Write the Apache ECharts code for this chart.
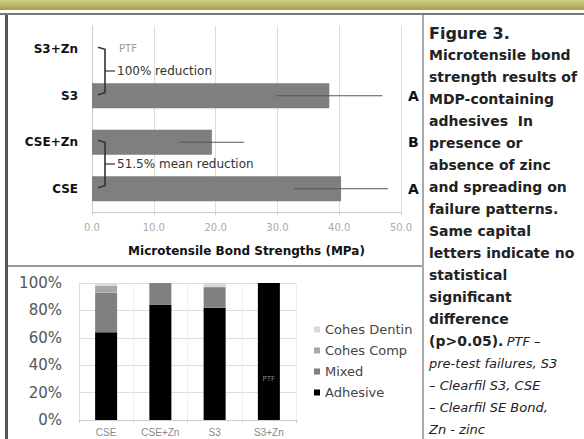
<!DOCTYPE html>
<html>
<head>
<meta charset="utf-8">
<script src="https://cdn.jsdelivr.net/npm/echarts@6/dist/echarts.min.js"></script>
<style>
  html, body { margin: 0; padding: 0; background: #fff; }
  #chart { width: 584px; height: 439px; }
</style>
</head>
<body>
<div id="chart"></div>
<script>
// top panel: microtensile bond strength (MPa), bottom to top
const bondGroups = ['CSE', 'CSE+Zn', 'S3', 'S3+Zn'];
const bondMeans = [40.3, 19.4, 38.4, 0];
const bondSD = [7.6, 5.2, 8.6, 0];
const bondLetters = ['A', 'B', 'A', ''];

// bottom panel: failure patterns (%)
const failGroups = ['CSE', 'CSE+Zn', 'S3', 'S3+Zn'];
const adhesive = [64, 84, 82, 100];
const mixed = [29, 16, 15, 0];
const cohesComp = [5, 0, 0, 0];
const cohesDentin = [2, 0, 3, 0];

const captionLines = [
  'Microtensile bond',
  'strength results of',
  'MDP-containing',
  'adhesives  In',
  'presence or',
  'absence of zinc',
  'and spreading on',
  'failure patterns.',
  'Same capital',
  'letters indicate no',
  'statistical',
  'significant',
  'difference'
];
const captionItalic = [
  'pre-test failures, S3',
  '– Clearfil S3, CSE',
  '– Clearfil SE Bond,',
  'Zn - zinc'
];

const chart = echarts.init(document.getElementById('chart'), null, {renderer: 'svg'});

const font = 'DejaVu Sans';

chart.setOption({
  animation: false,
  backgroundColor: '#fff',
  textStyle: {fontFamily: font},
  grid: [
    {left: 92, right: 183, top: 26, bottom: 227},
    {left: 79, right: 288, top: 283, bottom: 19}
  ],
  legend: {
    orient: 'vertical',
    left: 309,
    top: 318,
    itemWidth: 6,
    itemHeight: 6,
    itemGap: 8,
    icon: 'rect',
    data: ['Cohes Dentin', 'Cohes Comp', 'Mixed', 'Adhesive'],
    textStyle: {fontSize: 13, color: '#444', fontFamily: font}
  },
  xAxis: [
    {
      gridIndex: 0,
      type: 'value',
      min: 0,
      max: 50,
      interval: 10,
      name: 'Microtensile Bond Strengths (MPa)',
      nameLocation: 'middle',
      nameGap: 33,
      nameTextStyle: {fontSize: 12, fontWeight: 'bold', color: '#111'},
      axisLine: {show: true, lineStyle: {color: '#ccc'}},
      axisTick: {show: true, length: 3, lineStyle: {color: '#ccc'}},
      axisLabel: {fontSize: 10, color: '#aaa', margin: 10, formatter: v => v.toFixed(1)},
      splitLine: {lineStyle: {color: '#ddd'}}
    },
    {
      gridIndex: 1,
      type: 'category',
      data: failGroups,
      axisLine: {lineStyle: {color: '#ccc'}},
      axisTick: {show: true, length: 3, lineStyle: {color: '#ccc'}},
      axisLabel: {fontSize: 10, color: '#888', margin: 7, fontFamily: 'Liberation Sans'},
      splitLine: {show: true, lineStyle: {color: '#f0f0f0'}}
    }
  ],
  yAxis: [
    {
      gridIndex: 0,
      type: 'category',
      data: bondGroups,
      axisLine: {lineStyle: {color: '#ccc'}},
      axisTick: {show: false},
      axisLabel: {fontSize: 12, fontWeight: 'bold', color: '#111', margin: 14}
    },
    {
      gridIndex: 0,
      type: 'category',
      position: 'right',
      data: bondLetters,
      axisLine: {show: false},
      axisTick: {show: false},
      axisLabel: {fontSize: 14, fontWeight: 'bold', color: '#111', margin: 7}
    },
    {
      gridIndex: 1,
      type: 'value',
      min: 0,
      max: 100,
      interval: 20,
      axisLine: {show: true, lineStyle: {color: '#ddd'}},
      axisTick: {show: false},
      axisLabel: {fontSize: 15, color: '#555', margin: 17, formatter: '{value}%'},
      splitLine: {lineStyle: {color: '#ddd'}}
    }
  ],
  series: [
    {
      name: 'Bond',
      type: 'bar',
      xAxisIndex: 0,
      yAxisIndex: 0,
      data: bondMeans,
      barWidth: 25,
      itemStyle: {color: '#7f7f7f'}
    },
    {
      name: 'SD',
      type: 'custom',
      xAxisIndex: 0,
      yAxisIndex: 0,
      data: bondMeans.map((m, i) => [i, m - bondSD[i], m + bondSD[i]]).filter((d, i) => bondSD[i] > 0),
      encode: {y: 0, x: [1, 2]},
      renderItem: (params, api) => {
        const lo = api.coord([api.value(1), api.value(0)]);
        const hi = api.coord([api.value(2), api.value(0)]);
        return {
          type: 'line',
          shape: {x1: lo[0], y1: lo[1], x2: hi[0], y2: hi[1]},
          style: {stroke: '#555', lineWidth: 1}
        };
      },
      z: 5
    },
    {
      name: 'Adhesive',
      type: 'bar',
      stack: 'fail',
      xAxisIndex: 1,
      yAxisIndex: 2,
      barWidth: 22,
      itemStyle: {color: '#000'},
      data: adhesive.map((v, i) => failGroups[i] === 'S3+Zn'
        ? {value: v, label: {show: true, formatter: 'PTF', position: 'insideBottom', distance: 38, fontSize: 7, color: '#888'}}
        : v)
    },
    {
      name: 'Mixed',
      type: 'bar',
      stack: 'fail',
      xAxisIndex: 1,
      yAxisIndex: 2,
      barWidth: 22,
      itemStyle: {color: '#808080'},
      data: mixed
    },
    {
      name: 'Cohes Comp',
      type: 'bar',
      stack: 'fail',
      xAxisIndex: 1,
      yAxisIndex: 2,
      barWidth: 22,
      itemStyle: {color: '#a8a8a8'},
      data: cohesComp
    },
    {
      name: 'Cohes Dentin',
      type: 'bar',
      stack: 'fail',
      xAxisIndex: 1,
      yAxisIndex: 2,
      barWidth: 22,
      itemStyle: {color: '#d9d9d9'},
      data: cohesDentin
    }
  ]
});

// brackets and notes tied to the bar positions
const px = (v, idx) => chart.convertToPixel({xAxisIndex: 0, yAxisIndex: 0}, [v, idx]);
const brace = (topIdx, botIdx, text) => {
  const t = px(0, topIdx), b = px(0, botIdx);
  const x = t[0] + 13;
  const yT = t[1] - 2, yB = b[1] - 1, yM = (yT + yB) / 2;
  return [
    {type: 'polyline', z: 20, shape: {points: [[x - 7, yT], [x, yT + 2], [x, yB - 2], [x - 7, yB]]},
      style: {stroke: '#333', lineWidth: 1.6, fill: null}},
    {type: 'line', z: 20, shape: {x1: x, y1: yM, x2: x + 10, y2: yM}, style: {stroke: '#333', lineWidth: 1.2}},
    {type: 'text', z: 20, x: x + 12, y: yM, style: {text: text, fontSize: 12, fill: '#333', fontFamily: font, verticalAlign: 'middle'}}
  ];
};

const ptfPos = px(0, bondGroups.indexOf('S3+Zn'));

const graphics = [
  // header band and frame
  {type: 'rect', shape: {x: 0, y: 0, width: 584, height: 10},
    style: {fill: new echarts.graphic.LinearGradient(0, 0, 0, 1, [
      {offset: 0, color: '#d3cd85'}, {offset: 1, color: '#a69e45'}])}},
  {type: 'rect', shape: {x: 0, y: 13, width: 584, height: 2}, style: {fill: '#777'}},
  {type: 'rect', shape: {x: 5, y: 15, width: 3, height: 424}, style: {fill: '#555'}},
  {type: 'rect', shape: {x: 422, y: 15, width: 2, height: 424}, style: {fill: '#aaa'}},
  {type: 'rect', shape: {x: 8, y: 265, width: 414, height: 2}, style: {fill: '#999'}},
  {type: 'text', z: 20, x: ptfPos[0] + 27, y: ptfPos[1] - 1,
    style: {text: 'PTF', fontSize: 10, fill: '#999', fontFamily: font, verticalAlign: 'middle'}},
  ...brace(bondGroups.indexOf('S3+Zn'), bondGroups.indexOf('S3'), '100% reduction'),
  ...brace(bondGroups.indexOf('CSE+Zn'), bondGroups.indexOf('CSE'), '51.5% mean reduction'),
  // caption
  {type: 'text', x: 429, y: 33, style: {text: 'Figure 3.', fontSize: 16, fontWeight: 'bold', fill: '#222', fontFamily: font, verticalAlign: 'middle'}}
];

captionLines.forEach((line, i) => {
  graphics.push({type: 'text', x: 429, y: 55 + 22 * i,
    style: {text: line, fontSize: 14, fontWeight: 'bold', fill: '#222', fontFamily: font, verticalAlign: 'middle'}});
});
graphics.push({type: 'text', x: 429, y: 55 + 22 * captionLines.length,
  style: {
    text: '{b|(p>0.05).} {i|PTF –}',
    verticalAlign: 'middle',
    rich: {
      b: {fontSize: 14, fontWeight: 'bold', fill: '#222', fontFamily: font},
      i: {fontSize: 13, fontStyle: 'italic', fill: '#222', fontFamily: font}
    }
  }});
captionItalic.forEach((line, i) => {
  graphics.push({type: 'text', x: 429, y: 55 + 22 * (captionLines.length + 1 + i),
    style: {text: line, fontSize: 13, fontStyle: 'italic', fill: '#222', fontFamily: font, verticalAlign: 'middle'}});
});

chart.setOption({graphic: graphics});
</script>
</body>
</html>
